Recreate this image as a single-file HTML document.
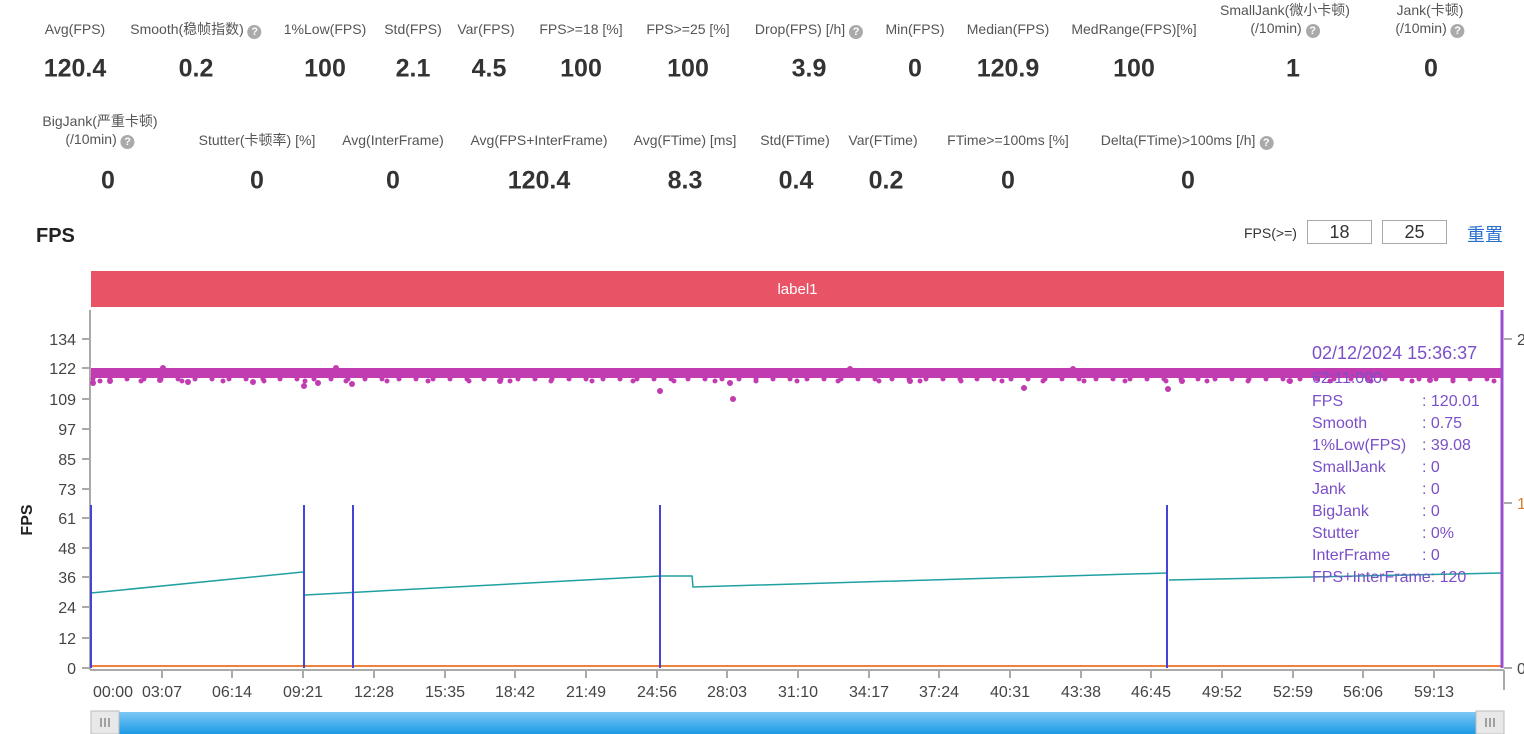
<!DOCTYPE html>
<html><head><meta charset="utf-8"><style>
body{margin:0;width:1524px;height:734px;overflow:hidden;background:#fff;font-family:"Liberation Sans","Noto Sans CJK SC",sans-serif;position:relative}
.l{position:absolute;font-size:14px;color:#555;transform:translateX(-50%);white-space:nowrap;text-align:center;line-height:18px}
.v{position:absolute;font-size:25px;font-weight:bold;color:#333;transform:translate(-50%,-50%);white-space:nowrap}
.q{display:inline-block;width:14px;height:14px;border-radius:50%;background:#aaa;color:#fff;font-size:11px;line-height:14px;text-align:center;font-weight:bold;vertical-align:-1px}
</style></head><body>
<div class="l" style="left:75px;top:20px">Avg(FPS)</div>
<div class="l" style="left:196px;top:20px">Smooth(稳帧指数) <span class="q">?</span></div>
<div class="l" style="left:325px;top:20px">1%Low(FPS)</div>
<div class="l" style="left:413px;top:20px">Std(FPS)</div>
<div class="l" style="left:486px;top:20px">Var(FPS)</div>
<div class="l" style="left:581px;top:20px">FPS&gt;=18 [%]</div>
<div class="l" style="left:688px;top:20px">FPS&gt;=25 [%]</div>
<div class="l" style="left:809px;top:20px">Drop(FPS) [/h] <span class="q">?</span></div>
<div class="l" style="left:915px;top:20px">Min(FPS)</div>
<div class="l" style="left:1008px;top:20px">Median(FPS)</div>
<div class="l" style="left:1134px;top:20px">MedRange(FPS)[%]</div>
<div class="l" style="left:1285px;top:1px">SmallJank(微小卡顿)<br>(/10min) <span class="q">?</span></div>
<div class="l" style="left:1430px;top:1px">Jank(卡顿)<br>(/10min) <span class="q">?</span></div>
<div class="v" style="left:75px;top:69px">120.4</div>
<div class="v" style="left:196px;top:69px">0.2</div>
<div class="v" style="left:325px;top:69px">100</div>
<div class="v" style="left:413px;top:69px">2.1</div>
<div class="v" style="left:489px;top:69px">4.5</div>
<div class="v" style="left:581px;top:69px">100</div>
<div class="v" style="left:688px;top:69px">100</div>
<div class="v" style="left:809px;top:69px">3.9</div>
<div class="v" style="left:915px;top:69px">0</div>
<div class="v" style="left:1008px;top:69px">120.9</div>
<div class="v" style="left:1134px;top:69px">100</div>
<div class="v" style="left:1293px;top:69px">1</div>
<div class="v" style="left:1431px;top:69px">0</div>

<div class="l" style="left:100px;top:112px">BigJank(严重卡顿)<br>(/10min) <span class="q">?</span></div>
<div class="l" style="left:257px;top:131px">Stutter(卡顿率) [%]</div>
<div class="l" style="left:393px;top:131px">Avg(InterFrame)</div>
<div class="l" style="left:539px;top:131px">Avg(FPS+InterFrame)</div>
<div class="l" style="left:685px;top:131px">Avg(FTime) [ms]</div>
<div class="l" style="left:795px;top:131px">Std(FTime)</div>
<div class="l" style="left:883px;top:131px">Var(FTime)</div>
<div class="l" style="left:1008px;top:131px">FTime&gt;=100ms [%]</div>
<div class="l" style="left:1187px;top:131px">Delta(FTime)&gt;100ms [/h] <span class="q">?</span></div>
<div class="v" style="left:108px;top:181px">0</div>
<div class="v" style="left:257px;top:181px">0</div>
<div class="v" style="left:393px;top:181px">0</div>
<div class="v" style="left:539px;top:181px">120.4</div>
<div class="v" style="left:685px;top:181px">8.3</div>
<div class="v" style="left:796px;top:181px">0.4</div>
<div class="v" style="left:886px;top:181px">0.2</div>
<div class="v" style="left:1008px;top:181px">0</div>
<div class="v" style="left:1188px;top:181px">0</div>

<div style="position:absolute;left:36px;top:225px;font-size:20px;font-weight:bold;color:#222">FPS</div>
<div style="position:absolute;left:1244px;top:225px;font-size:14px;color:#333">FPS(&gt;=)</div>
<div style="position:absolute;left:1307px;top:220px;width:63px;height:22px;border:1px solid #aaa;font-size:18px;text-align:center;line-height:22px;color:#333">18</div>
<div style="position:absolute;left:1382px;top:220px;width:63px;height:22px;border:1px solid #aaa;font-size:18px;text-align:center;line-height:22px;color:#333">25</div>
<div style="position:absolute;left:1467px;top:221px;font-size:18px;color:#2a6fd0">重置</div>
<div style="position:absolute;left:91px;top:271px;width:1413px;height:36px;background:#e85466;color:#fff;font-size:15px;text-align:center;line-height:38px">label1</div>

<svg width="1524" height="734" style="position:absolute;left:0;top:0" font-family="Liberation Sans, sans-serif">
<g font-size="16" fill="#444" text-anchor="end">
<text x="76" y="345">134</text><text x="76" y="374">122</text><text x="76" y="405">109</text><text x="76" y="435">97</text><text x="76" y="465">85</text><text x="76" y="495">73</text><text x="76" y="524">61</text><text x="76" y="554">48</text><text x="76" y="583">36</text><text x="76" y="613">24</text><text x="76" y="644">12</text><text x="76" y="674">0</text>
</g>
<g stroke="#aaa" stroke-width="2">
<line x1="82" y1="339" x2="90" y2="339"/><line x1="82" y1="368" x2="90" y2="368"/><line x1="82" y1="399" x2="90" y2="399"/><line x1="82" y1="429" x2="90" y2="429"/><line x1="82" y1="459" x2="90" y2="459"/><line x1="82" y1="489" x2="90" y2="489"/><line x1="82" y1="518" x2="90" y2="518"/><line x1="82" y1="548" x2="90" y2="548"/><line x1="82" y1="577" x2="90" y2="577"/><line x1="82" y1="607" x2="90" y2="607"/><line x1="82" y1="638" x2="90" y2="638"/><line x1="82" y1="668" x2="90" y2="668"/>
<line x1="90" y1="310" x2="90" y2="670"/>
<line x1="90" y1="670" x2="1504" y2="670"/>
<line x1="1504" y1="339" x2="1512" y2="339"/><line x1="1504" y1="503" x2="1512" y2="503"/><line x1="1504" y1="668" x2="1512" y2="668"/>
<line x1="1504" y1="670" x2="1504" y2="690"/>
</g>
<text x="32" y="520" font-size="16" font-weight="bold" fill="#222" transform="rotate(-90 32 520)" text-anchor="middle">FPS</text>
<g font-size="16" fill="#444" text-anchor="middle">
<text x="113" y="697">00:00</text><text x="162" y="697">03:07</text><text x="232" y="697">06:14</text><text x="303" y="697">09:21</text><text x="374" y="697">12:28</text><text x="445" y="697">15:35</text><text x="515" y="697">18:42</text><text x="586" y="697">21:49</text><text x="657" y="697">24:56</text><text x="727" y="697">28:03</text><text x="798" y="697">31:10</text><text x="869" y="697">34:17</text><text x="939" y="697">37:24</text><text x="1010" y="697">40:31</text><text x="1081" y="697">43:38</text><text x="1151" y="697">46:45</text><text x="1222" y="697">49:52</text><text x="1293" y="697">52:59</text><text x="1363" y="697">56:06</text><text x="1434" y="697">59:13</text>
</g>
<g stroke="#aaa" stroke-width="2">
<line x1="162" y1="671" x2="162" y2="678"/><line x1="232" y1="671" x2="232" y2="678"/><line x1="303" y1="671" x2="303" y2="678"/><line x1="374" y1="671" x2="374" y2="678"/><line x1="445" y1="671" x2="445" y2="678"/><line x1="515" y1="671" x2="515" y2="678"/><line x1="586" y1="671" x2="586" y2="678"/><line x1="657" y1="671" x2="657" y2="678"/><line x1="727" y1="671" x2="727" y2="678"/><line x1="798" y1="671" x2="798" y2="678"/><line x1="869" y1="671" x2="869" y2="678"/><line x1="939" y1="671" x2="939" y2="678"/><line x1="1010" y1="671" x2="1010" y2="678"/><line x1="1081" y1="671" x2="1081" y2="678"/><line x1="1151" y1="671" x2="1151" y2="678"/><line x1="1222" y1="671" x2="1222" y2="678"/><line x1="1293" y1="671" x2="1293" y2="678"/><line x1="1363" y1="671" x2="1363" y2="678"/><line x1="1434" y1="671" x2="1434" y2="678"/>
</g>
<g font-size="16" fill="#444"><text x="1517" y="345">2</text><text x="1517" y="509" fill="#d08030">1</text><text x="1517" y="674">0</text></g>
<!-- magenta band -->
<rect x="91" y="368" width="1411" height="10" fill="#c03cb0"/>
<line x1="93" y1="379" x2="1500" y2="379" stroke="#c03cb0" stroke-width="5" stroke-linecap="round" stroke-dasharray="0 17"/>
<line x1="100" y1="381" x2="1500" y2="381" stroke="#c03cb0" stroke-width="5" stroke-linecap="round" stroke-dasharray="0 41"/>
<g fill="#c03cb0">
<circle cx="93" cy="383" r="3"/><circle cx="110" cy="381" r="3"/><circle cx="160" cy="380" r="3"/><circle cx="188" cy="382" r="3"/><circle cx="253" cy="382" r="3"/><circle cx="304" cy="386" r="3"/><circle cx="318" cy="383" r="3"/><circle cx="352" cy="384" r="3"/><circle cx="163" cy="368" r="3"/><circle cx="336" cy="368" r="3"/><circle cx="660" cy="391" r="3"/><circle cx="733" cy="399" r="3"/><circle cx="730" cy="383" r="3"/><circle cx="1024" cy="388" r="3"/><circle cx="1168" cy="389" r="3"/><circle cx="1182" cy="381" r="3"/><circle cx="1290" cy="381" r="3"/><circle cx="500" cy="381" r="3"/><circle cx="850" cy="369" r="3"/><circle cx="1073" cy="369" r="3"/><circle cx="910" cy="381" r="3"/><circle cx="1430" cy="380" r="3"/>
</g>
<!-- teal -->
<g stroke="#20a0a0" stroke-width="1.5" fill="none">
<polyline points="91,593 303,572"/><polyline points="305,595 660,576"/><polyline points="660,576 692,576 693,587 1167,573"/><polyline points="1169,580 1502,573"/>
</g>
<line x1="91" y1="666" x2="1502" y2="666" stroke="#f08040" stroke-width="2"/>
<g stroke="#4444dd" stroke-width="2">
<line x1="91" y1="505" x2="91" y2="668"/><line x1="304" y1="505" x2="304" y2="668"/><line x1="353" y1="505" x2="353" y2="668"/><line x1="660" y1="505" x2="660" y2="668"/><line x1="1167" y1="505" x2="1167" y2="668"/>
</g>
<line x1="1502" y1="310" x2="1502" y2="668" stroke="#9b4fd0" stroke-width="3"/>
<g fill="#7b4fc9" font-size="16">
<text x="1312" y="359" font-size="18">02/12/2024 15:36:37</text>
<text x="1312" y="383">62:11:000</text>
<text x="1312" y="406">FPS</text><text x="1422" y="406">: 120.01</text>
<text x="1312" y="428">Smooth</text><text x="1422" y="428">: 0.75</text>
<text x="1312" y="450">1%Low(FPS)</text><text x="1422" y="450">: 39.08</text>
<text x="1312" y="472">SmallJank</text><text x="1422" y="472">: 0</text>
<text x="1312" y="494">Jank</text><text x="1422" y="494">: 0</text>
<text x="1312" y="516">BigJank</text><text x="1422" y="516">: 0</text>
<text x="1312" y="538">Stutter</text><text x="1422" y="538">: 0%</text>
<text x="1312" y="560">InterFrame</text><text x="1422" y="560">: 0</text>
<text x="1312" y="582">FPS+InterFrame: 120</text>
</g>
<defs><linearGradient id="g" x1="0" y1="0" x2="0" y2="1"><stop offset="0" stop-color="#7cc8f4"/><stop offset="1" stop-color="#1c9ae6"/></linearGradient></defs>
<rect x="91" y="712" width="1411" height="22" fill="url(#g)"/>
<rect x="91" y="711" width="28" height="23" fill="#e8e8e8" stroke="#bbb"/>
<rect x="1476" y="711" width="28" height="23" fill="#e8e8e8" stroke="#bbb"/>
<g stroke="#888" stroke-width="1.5"><line x1="101" y1="718" x2="101" y2="727"/><line x1="105" y1="718" x2="105" y2="727"/><line x1="109" y1="718" x2="109" y2="727"/><line x1="1486" y1="718" x2="1486" y2="727"/><line x1="1490" y1="718" x2="1490" y2="727"/><line x1="1494" y1="718" x2="1494" y2="727"/></g>
</svg>
</body></html>
